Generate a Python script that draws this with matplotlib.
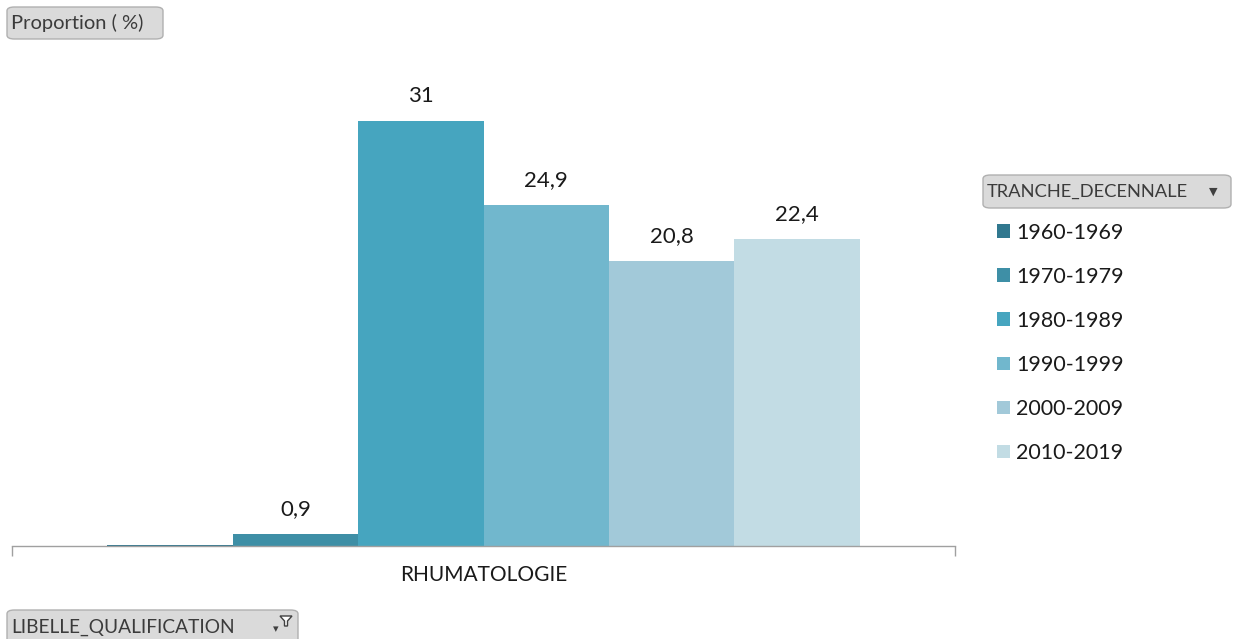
import numpy as np
import matplotlib.pyplot as plt
from matplotlib.patches import FancyBboxPatch, Patch, Polygon

plt.rcParams['font.family'] = ['Lato', 'DejaVu Sans']

categorie = "RHUMATOLOGIE"
tranches = ["1960-1969", "1970-1979", "1980-1989", "1990-1999", "2000-2009", "2010-2019"]
proportions = [0.1, 0.9, 31, 24.9, 20.8, 22.4]
etiquettes = ["", "0,9", "31", "24,9", "20,8", "22,4"]
couleurs = ["#31788f", "#3e8fa6", "#46a5bf", "#71b7cd", "#a2c9d9", "#c2dce4"]

W, H = 1235, 639
fig = plt.figure(figsize=(W / 100, H / 100), dpi=100)

# axe en pixels : gauche 12, droite 955, base 546, haut 66
ax = fig.add_axes([12 / W, 1 - 546 / H, 943 / W, 480 / H])
lim = 35.0

n = len(tranches)
offsets = np.arange(n) - (n - 1) / 2
barres = ax.bar(offsets, proportions, width=1.0, color=couleurs, linewidth=0)
for b, lab in zip(barres, etiquettes):
    if lab:
        ax.text(b.get_x() + b.get_width() / 2, b.get_height() + 1.8, lab,
                ha='center', va='center', fontsize=16, color='#1a1a1a')

demi = 943 / 125.4 / 2
ax.set_xlim(-demi, demi)
ax.set_ylim(0, lim)
ax.set_yticks([])
ax.set_xticks([0])
ax.set_xticklabels([categorie], fontsize=15, color='#1a1a1a')
ax.tick_params(axis='x', which='major', length=0, pad=14)
ax.set_xticks([-demi, demi], minor=True)
ax.tick_params(axis='x', which='minor', length=7, color='#a0a0a0', width=1)
for s in ['top', 'right', 'left']:
    ax.spines[s].set_visible(False)
ax.spines['bottom'].set_color('#a0a0a0')
ax.spines['bottom'].set_linewidth(1)


def bouton(x0, y0, x1, y1, texte, taille):
    p = FancyBboxPatch((x0 / W, 1 - y1 / H), (x1 - x0) / W, (y1 - y0) / H,
                       boxstyle="round,pad=0,rounding_size=0.006",
                       transform=fig.transFigure, facecolor='#dadada',
                       edgecolor='#b0b0b0', linewidth=1)
    fig.patches.append(p)
    fig.text((x0 + 4) / W, 1 - (y0 + y1) / 2 / H, texte, ha='left', va='center',
             fontsize=taille, color='#3b3b3b')


bouton(7, 7, 163, 39, "Proportion ( %)", 14.5)
bouton(983, 175, 1231, 208, "TRANCHE_DECENNALE", 13.2)
fig.text(1213 / W, 1 - 192 / H, "▼", ha='center', va='center', fontsize=8,
         color='#404040', family=['DejaVu Sans'])
bouton(7, 610, 298, 645, "LIBELLE_QUALIFICATION", 13.8)
# petit filtre (entonnoir) et fleche du bouton du bas
fig.text(276 / W, 1 - 629 / H, "▾", ha='center', va='center', fontsize=8,
         color='#404040', family=['DejaVu Sans'])
entonnoir = Polygon([(280 / W, 1 - 616 / H), (292 / W, 1 - 616 / H),
                     (287.5 / W, 1 - 621 / H), (287.5 / W, 1 - 626 / H),
                     (284.5 / W, 1 - 626 / H), (284.5 / W, 1 - 621 / H)],
                    closed=True, transform=fig.transFigure,
                    facecolor='white', edgecolor='#404040', linewidth=1)
fig.patches.append(entonnoir)

poignees = [Patch(facecolor=c, edgecolor='none') for c in couleurs]
fig.legend(poignees, tranches, loc='upper left',
           bbox_to_anchor=(988 / W, 1 - 214 / H), frameon=False,
           fontsize=15.5, handlelength=0.6, handleheight=0.6, handletextpad=0.3,
           labelspacing=1.12, borderaxespad=0, labelcolor='#1a1a1a')

fig.savefig("out.png", dpi=100)
